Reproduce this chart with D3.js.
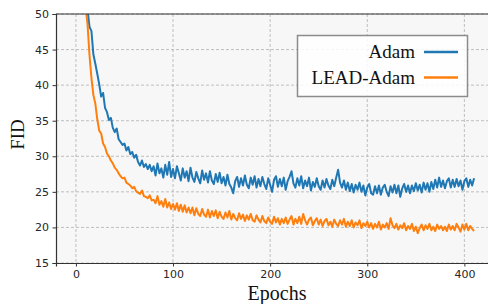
<!DOCTYPE html>
<html>
<head>
<meta charset="utf-8">
<script src="https://cdn.jsdelivr.net/npm/d3@7"></script>
<style>
  body { margin: 0; background: #fff; }
  svg { display: block; }
  .tick text { font-family: "DejaVu Sans", sans-serif; font-size: 11px; fill: #262626; }
</style>
</head>
<body>
<svg id="chart"></svg>
<script>
// FID sampled every 2 epochs (epoch 0..410)
var epochStep = 2;
var adam = [
  120, 96, 80, 68, 60, 54, 50.6, 48.2, 47.6, 44.3,
  43.0, 41.6, 40.1, 38.4, 38.9, 36.8, 36.2, 35.1, 35.4, 34.0,
  33.4, 33.9, 32.4, 32.0, 31.6, 31.8, 30.8, 31.3, 30.3, 30.6,
  29.8, 30.2, 29.2, 28.7, 29.4, 28.5, 28.9, 28.2, 28.8, 27.9,
  28.6, 27.3, 29.0, 27.6, 28.3, 27.0, 28.8, 27.4, 29.2, 27.1,
  28.2, 26.9, 28.6, 27.6, 26.6, 28.3, 27.0, 27.9, 26.5, 28.4,
  27.0, 26.4, 27.8, 26.9, 26.2, 28.0, 26.7, 27.6, 26.3, 27.9,
  26.6, 26.1, 27.5, 26.4, 27.7, 26.2, 27.1, 25.9, 27.4, 26.1,
  25.6, 24.8, 26.5, 27.1, 25.7, 26.9, 25.9, 27.3, 26.0, 25.5,
  27.0, 26.0, 27.2, 25.6, 26.8, 25.8, 27.1, 26.1, 25.4, 26.9,
  26.0, 25.0, 26.7, 27.2, 25.7, 26.8, 25.8, 27.0, 25.3, 26.5,
  27.1, 27.9, 26.2, 25.6, 26.9, 25.9, 27.2, 25.5, 26.6, 25.8,
  27.0, 25.2, 26.4, 25.7, 26.9, 25.8, 25.3, 26.6, 25.6, 26.8,
  25.9, 25.4, 26.7, 25.8, 27.0, 28.1, 26.3, 25.6, 26.6, 25.3,
  26.3, 25.1, 26.1, 24.9, 26.0, 25.3, 26.3, 25.0, 25.9, 24.5,
  25.6, 26.1, 24.8, 24.6, 25.8, 24.8, 25.9, 24.6, 25.6, 26.0,
  25.0, 24.4, 25.8, 24.9, 26.0, 24.8, 25.9, 24.3, 25.5, 26.1,
  25.0, 25.9, 24.8, 25.9, 25.1, 26.2, 25.2, 26.0, 24.9, 26.3,
  25.3, 26.2, 25.0, 26.4, 25.4, 26.7, 25.6, 27.0, 25.7, 26.6,
  25.5, 26.5, 26.9, 25.6, 26.7, 25.7, 26.8, 25.8, 26.6, 25.3,
  26.5, 26.9, 25.7, 26.7, 25.9, 26.9
];
var leadAdam = [
  110, 86, 71, 61, 55, 51, 48.5, 44.2, 41.0, 38.6,
  37.4, 35.2, 33.6, 33.2, 31.8, 31.3, 30.4, 30.0, 29.4, 29.0,
  28.4, 28.1, 27.6, 27.2, 26.9, 27.0, 26.3, 26.1, 25.9, 25.5,
  25.7, 25.1, 24.9, 24.7, 25.2, 24.4, 24.3, 24.1, 24.5, 23.8,
  23.9, 23.4, 24.4, 23.2, 23.7, 22.9, 24.0, 22.8, 23.5, 22.6,
  23.3, 22.5, 23.4, 22.3, 23.2, 22.2, 23.1, 22.1, 22.8, 22.0,
  22.8, 21.7, 22.7, 21.9, 21.6, 22.6, 21.8, 21.5, 22.5, 21.4,
  22.3, 21.6, 22.4, 21.3, 22.2, 21.5, 21.2, 22.1, 21.4, 22.3,
  21.1, 21.9, 21.3, 21.0, 22.0, 21.2, 21.8, 20.9, 21.7, 21.1,
  21.9, 21.0, 20.8, 21.7, 21.1, 20.7, 21.6, 20.9, 20.6, 21.4,
  20.8, 20.5, 21.5, 20.7, 21.3, 20.4, 21.2, 20.6, 21.4, 20.5,
  21.1, 21.6, 20.4, 21.2, 20.6, 21.5, 20.5, 21.9, 21.0, 20.4,
  21.1, 21.4, 20.3, 20.9, 21.3, 20.4, 21.1, 20.2, 20.9, 21.2,
  20.3, 20.8, 20.1, 21.1, 20.5, 20.2, 21.0, 20.4, 21.2, 20.1,
  20.8, 20.2, 21.0, 20.0, 20.7, 20.3, 21.0, 19.9, 20.6, 20.2,
  20.8, 20.0, 20.6, 19.8, 20.5, 20.0, 20.8, 19.7, 20.4, 20.0,
  20.6, 19.8, 21.3, 20.3, 19.9, 20.5, 19.7, 20.3, 19.9, 20.6,
  19.6, 20.2, 19.8, 20.5, 19.5, 20.1, 19.2, 19.9, 20.4, 19.6,
  20.3, 19.8, 20.5, 19.6, 20.1, 19.5, 20.4, 19.8, 20.2, 19.6,
  20.1, 19.5, 20.4, 19.7, 20.2, 19.6, 20.5, 20.0, 19.4, 20.4,
  19.7, 20.5, 19.6, 20.2, 19.8, 19.5
];
var xTicks = [0, 100, 200, 300, 400];
var yTicks = [15, 20, 25, 30, 35, 40, 45, 50];
var seriesNames = ["Adam", "LEAD-Adam"];
var seriesColors = ["#1f77b4", "#ff7f0e"];

var width = 488, height = 304;
var margin = {top: 14, right: -6, bottom: 41, left: 56};
var pw = width - margin.left - margin.right;
var ph = height - margin.top - margin.bottom;

var svg = d3.select("#chart").attr("width", width).attr("height", height);

var x = d3.scaleLinear().domain([-20.5, 430.5]).range([0, pw]);
var y = d3.scaleLinear().domain([15, 50]).range([ph, 0]);

var g = svg.append("g").attr("transform", "translate(" + margin.left + "," + margin.top + ")");

g.append("clipPath").attr("id", "clip")
  .append("rect").attr("width", pw).attr("height", ph);

g.append("rect").attr("width", pw).attr("height", ph).attr("fill", "#f7f7f7");

// grid
g.append("g").selectAll("line").data(xTicks).enter().append("line")
  .attr("x1", function(d) { return x(d); }).attr("x2", function(d) { return x(d); })
  .attr("y1", 0).attr("y2", ph)
  .attr("stroke", "#b0b0b0").attr("stroke-width", 0.8).attr("stroke-dasharray", "3,2");
g.append("g").selectAll("line").data(yTicks).enter().append("line")
  .attr("x1", 0).attr("x2", pw)
  .attr("y1", function(d) { return y(d); }).attr("y2", function(d) { return y(d); })
  .attr("stroke", "#b0b0b0").attr("stroke-width", 0.8).attr("stroke-dasharray", "3,2");

// curves
var line = d3.line()
  .x(function(d, i) { return x(i * epochStep); })
  .y(function(d) { return y(d); });

var lines = g.append("g").attr("clip-path", "url(#clip)");
[adam, leadAdam].forEach(function(s, k) {
  lines.append("path").datum(s)
    .attr("d", line)
    .attr("fill", "none")
    .attr("stroke", seriesColors[k])
    .attr("stroke-width", 2)
    .attr("stroke-linejoin", "round");
});

// axes
var xAxis = g.append("g").attr("transform", "translate(0," + ph + ")")
  .call(d3.axisBottom(x).tickValues(xTicks).tickSize(3.5).tickPadding(3.5));
var yAxis = g.append("g")
  .call(d3.axisLeft(y).tickValues(yTicks).tickSize(3.5).tickPadding(3.5));
[xAxis, yAxis].forEach(function(a) {
  a.select(".domain").attr("stroke", "#333").attr("stroke-width", 1.2);
  a.selectAll(".tick line").attr("stroke", "#333");
});
g.append("line").attr("x1", 0).attr("x2", pw).attr("y1", 0).attr("y2", 0)
  .attr("stroke", "#333").attr("stroke-width", 1.2);

// axis titles
svg.append("text")
  .attr("x", margin.left + pw / 2 + 2).attr("y", 300)
  .attr("text-anchor", "middle")
  .attr("font-family", "Liberation Serif, serif").attr("font-size", 20)
  .attr("fill", "#111")
  .text("Epochs");
svg.append("text")
  .attr("transform", "translate(24," + (margin.top + ph / 2 - 4) + ") rotate(-90)")
  .attr("text-anchor", "middle")
  .attr("font-family", "Liberation Serif, serif").attr("font-size", 19)
  .attr("fill", "#111")
  .text("FID");

// legend
var lg = svg.append("g");
lg.append("rect")
  .attr("x", 297.5).attr("y", 35.5).attr("width", 170).attr("height", 61)
  .attr("fill", "#fff").attr("fill-opacity", 0.85)
  .attr("stroke", "#8c8c8c").attr("stroke-width", 1.5);
seriesNames.forEach(function(name, k) {
  var yy = 52 + k * 25.5;
  lg.append("text")
    .attr("x", 415).attr("y", yy + 6)
    .attr("text-anchor", "end")
    .attr("font-family", "Liberation Serif, serif").attr("font-size", 19)
    .attr("fill", "#111")
    .text(name);
  lg.append("line")
    .attr("x1", 424).attr("x2", 458).attr("y1", yy).attr("y2", yy)
    .attr("stroke", seriesColors[k]).attr("stroke-width", 2.5);
});
</script>
</body>
</html>
